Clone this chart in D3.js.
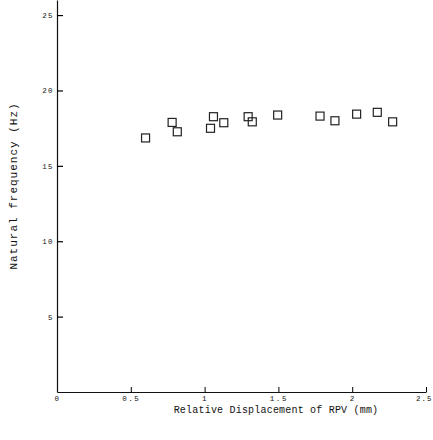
<!DOCTYPE html>
<html>
<head>
<meta charset="utf-8">
<script src="https://cdn.jsdelivr.net/npm/d3@7"></script>
<style>
  body { margin: 0; background: #fff; }
  text { font-family: "Liberation Mono", "DejaVu Sans Mono", monospace; fill: #111; }
</style>
</head>
<body>
<div id="container"></div>
<script>
// Relative displacement of RPV (mm)
const displacement = [0.60, 0.78, 0.815, 1.06, 1.04, 1.13, 1.295, 1.323, 1.495, 1.782, 1.883, 2.03, 2.17, 2.274];
// Natural frequency (Hz)
const frequency = [16.85, 17.88, 17.26, 18.26, 17.49, 17.86, 18.26, 17.92, 18.37, 18.30, 17.99, 18.43, 18.55, 17.92];
const xTicks = [0, 0.5, 1, 1.5, 2, 2.5];
const yTicks = [5, 10, 15, 20, 25];

const width = 433, height = 440;

const svg = d3.select('#container').append('svg')
    .attr('width', width)
    .attr('height', height);

// scales
const x = d3.scaleLinear().domain([0, 2.5]).range([57, 426]);
const y = d3.scaleLinear().domain([0, 26]).range([392, 0]);

// x axis, ticks pointing inward
const xAxis = svg.append('g')
    .attr('transform', `translate(0,${y(0)})`)
    .call(d3.axisBottom(x)
        .tickValues(xTicks)
        .tickFormat(d => d === 0 ? '0' : String(d))
        .tickSizeInner(-5)
        .tickSizeOuter(0)
        .tickPadding(4));
xAxis.select('.domain').attr('stroke', '#111').attr('stroke-width', 1.2);
xAxis.selectAll('text').style('font-size', '7.5px').style('letter-spacing', '1.6px');
// last label sits at the page edge, keep it inside
xAxis.selectAll('text').filter(d => d === 2.5)
    .attr('text-anchor', 'end')
    .attr('dx', '6px')
    .style('letter-spacing', '1px');

// y axis, ticks pointing inward
const yAxis = svg.append('g')
    .attr('transform', `translate(${x(0)},0)`)
    .call(d3.axisLeft(y)
        .tickValues(yTicks)
        .tickSizeInner(-6)
        .tickSizeOuter(0)
        .tickPadding(3));
yAxis.select('.domain').attr('stroke', '#111').attr('stroke-width', 1.2);
yAxis.selectAll('.tick line').attr('stroke-width', 1.2);
yAxis.selectAll('text').style('font-size', '7.5px').style('letter-spacing', '1.4px');

// square markers
const s = 8;
svg.append('g')
    .selectAll('rect')
    .data(displacement)
    .enter()
    .append('rect')
    .attr('x', d => x(d) - s / 2)
    .attr('y', (d, i) => y(frequency[i]) - s / 2)
    .attr('width', s)
    .attr('height', s)
    .attr('fill', 'none')
    .attr('stroke', '#222')
    .attr('stroke-width', 1.2);

// axis titles
svg.append('text')
    .attr('x', 276)
    .attr('y', 413)
    .attr('text-anchor', 'middle')
    .style('font-size', '10px')
    .style('letter-spacing', '0.2px')
    .text('Relative Displacement of RPV (mm)');

svg.append('text')
    .attr('transform', 'translate(17,186) rotate(-90)')
    .attr('text-anchor', 'middle')
    .style('font-size', '11px')
    .style('letter-spacing', '1px')
    .text('Natural frequency (Hz)');
</script>
</body>
</html>
